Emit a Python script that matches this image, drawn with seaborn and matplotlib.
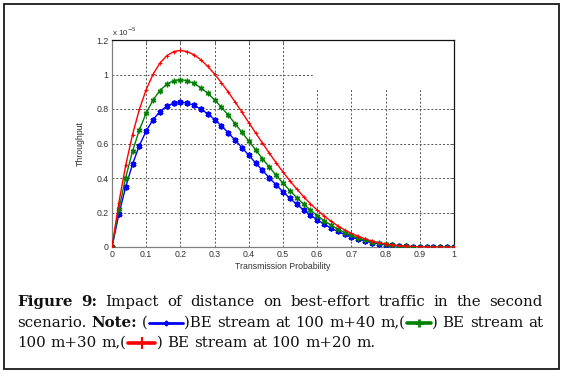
import numpy as np
import pandas as pd
import seaborn as sns
import matplotlib
matplotlib.use("Agg")
import matplotlib.pyplot as plt
from matplotlib.patches import Rectangle
from matplotlib.lines import Line2D

# ---------------- data (throughput in units of 1e-5) ----------------
prob = [0.00, 0.02, 0.04, 0.06, 0.08, 0.10, 0.12, 0.14, 0.16, 0.18,
        0.20, 0.22, 0.24, 0.26, 0.28, 0.30, 0.32, 0.34, 0.36, 0.38,
        0.40, 0.42, 0.44, 0.46, 0.48, 0.50, 0.52, 0.54, 0.56, 0.58,
        0.60, 0.62, 0.64, 0.66, 0.68, 0.70, 0.72, 0.74, 0.76, 0.78,
        0.80, 0.82, 0.84, 0.86, 0.88, 0.90, 0.92, 0.94, 0.96, 0.98, 1.00]

be_40m = [0.000, 0.189, 0.348, 0.480, 0.588, 0.673, 0.738, 0.785, 0.817, 0.834,
          0.840, 0.835, 0.821, 0.799, 0.772, 0.739, 0.702, 0.662, 0.619, 0.576,
          0.532, 0.487, 0.444, 0.401, 0.360, 0.320, 0.283, 0.248, 0.215, 0.185,
          0.158, 0.133, 0.110, 0.090, 0.073, 0.058, 0.045, 0.035, 0.026, 0.019,
          0.013, 0.009, 0.006, 0.003, 0.002, 0.001, 0.000, 0.000, 0.000, 0.000, 0.000]

be_30m = [0.000, 0.218, 0.402, 0.555, 0.679, 0.777, 0.852, 0.907, 0.943, 0.964,
          0.970, 0.964, 0.948, 0.923, 0.891, 0.853, 0.810, 0.764, 0.715, 0.665,
          0.614, 0.563, 0.512, 0.463, 0.416, 0.370, 0.327, 0.286, 0.249, 0.214,
          0.182, 0.153, 0.127, 0.104, 0.084, 0.067, 0.052, 0.040, 0.030, 0.022,
          0.015, 0.010, 0.006, 0.004, 0.002, 0.001, 0.000, 0.000, 0.000, 0.000, 0.000]

be_20m = [0.000, 0.257, 0.473, 0.652, 0.798, 0.913, 1.001, 1.066, 1.109, 1.132,
          1.140, 1.133, 1.114, 1.085, 1.047, 1.002, 0.952, 0.898, 0.841, 0.781,
          0.721, 0.661, 0.602, 0.544, 0.488, 0.435, 0.384, 0.337, 0.292, 0.251,
          0.214, 0.180, 0.150, 0.123, 0.099, 0.079, 0.062, 0.047, 0.035, 0.025,
          0.018, 0.012, 0.008, 0.005, 0.003, 0.001, 0.001, 0.000, 0.000, 0.000, 0.000]

x_ticks = [0, 0.1, 0.2, 0.3, 0.4, 0.5, 0.6, 0.7, 0.8, 0.9, 1]
x_tick_labels = ["0", "0.1", "0.2", "0.3", "0.4", "0.5", "0.6", "0.7", "0.8", "0.9", "1"]
y_ticks = [0, 0.2, 0.4, 0.6, 0.8, 1.0, 1.2]
y_tick_labels = ["0", "0.2", "0.4", "0.6", "0.8", "1", "1.2"]

# ---------------- figure ----------------
sns.set_style("white")
plt.rcParams["font.family"] = ["Liberation Sans", "DejaVu Sans"]

W, H = 579, 380
fig = plt.figure(figsize=(W / 100, H / 100), dpi=100)
fig.patch.set_facecolor("white")

# outer frame
fig.add_artist(Rectangle((4 / W, 1 - 369 / H), 555 / W, 365 / H, transform=fig.transFigure,
                         facecolor="none", edgecolor="#1a1a1a", lw=1.3))

ax = fig.add_axes([112 / W, 1 - 247 / H, 342 / W, 207 / H])
ax.set_axisbelow(True)

df = pd.DataFrame({"p": prob, "b40": be_40m, "b30": be_30m, "b20": be_20m})
series = [("b40", "#0000ff", (6, 2, 0), 4.2, 1.3),
          ("b30", "#008000", (6, 2, 0), 4.0, 1.0),
          ("b20", "#ff0000", "+", 3.5, 0.7)]
for col, color, marker, ms, mew in series:
    sns.lineplot(data=df, x="p", y=col, ax=ax, color=color, lw=1.0,
                 marker=marker, markersize=ms, markeredgewidth=mew,
                 markeredgecolor=color, markerfacecolor=color,
                 estimator=None, sort=False, zorder=3)

ax.set_xlim(0, 1)
ax.set_ylim(0, 1.2)
ax.set_xticks(x_ticks)
ax.set_xticklabels(x_tick_labels)
ax.set_yticks(y_ticks)
ax.set_yticklabels(y_tick_labels)

ax.grid(True, linestyle=(0, (2, 2)), color="#555555", lw=0.7)
# blank area (invisible legend box in the original)
ax.add_patch(Rectangle((0.588, 0.91), 0.412, 0.29, facecolor="white",
                       edgecolor="none", zorder=1.5))

for side in ["left", "bottom"]:
    ax.spines[side].set_color("#808080")
    ax.spines[side].set_linewidth(0.9)
for side in ["top", "right"]:
    ax.spines[side].set_color("#111111")
    ax.spines[side].set_linewidth(0.9)

ax.tick_params(direction="in", length=3, width=0.6, top=True, right=True,
               labelsize=6.3, labelcolor="#333333", color="#555555", pad=2.5)
ax.set_xlabel("Transmission Probability", fontsize=6.3, color="#333333", labelpad=1.5)
ax.set_ylabel("Throughput", fontsize=6.3, color="#333333", labelpad=8)
ax.text(0.0, 1.012, "x 10$^{-5}$", transform=ax.transAxes, fontsize=5.8,
        color="#333333", ha="left", va="bottom")

# ---------------- caption (justified, serif) ----------------
cap_font = ["DejaVu Serif"]
cap_size = 10.8
L, R = 17, 543
renderer = fig.canvas.get_renderer()


def T(s, bold=False):
    return ("t", s, bold)


def S(color, marker, ms, mew, width, lw):
    return ("s", color, marker, ms, mew, width, lw)


lines = [
    [[T("Figure", True)], [T("9:", True)], [T("Impact")], [T("of")], [T("distance")], [T("on")],
     [T("best-effort")], [T("traffic")], [T("in")], [T("the")], [T("second")]],
    [[T("scenario.")], [T("Note:", True)],
     [T("("), S("#0000ff", "D", 2.5, 1.0, 36, 2.0), T(")BE")],
     [T("stream")], [T("at")], [T("100")], [T("m+40")],
     [T("m,("), S("#008000", "+", 6, 2.0, 26, 2.6), T(")")],
     [T("BE")], [T("stream")], [T("at")]],
    [[T("100")], [T("m+30")],
     [T("m,("), S("#ff0000", "+", 9, 1.5, 30, 2.6), T(")")],
     [T("BE")], [T("stream")], [T("at")], [T("100")], [T("m+20")], [T("m.")]],
]
baselines = [306, 327, 347]
justify = [True, True, False]

space_t = fig.text(0, 0, "a a", fontsize=cap_size, family=cap_font)
w_aa = space_t.get_window_extent(renderer).width
a_t = fig.text(0, 0, "aa", fontsize=cap_size, family=cap_font)
space_w = w_aa - a_t.get_window_extent(renderer).width
space_t.remove()
a_t.remove()

for words, base, just in zip(lines, baselines, justify):
    yf = 1 - base / H
    placed = []
    widths = []
    for word in words:
        items = []
        wsum = 0
        for piece in word:
            if piece[0] == "t":
                t = fig.text(0, yf, piece[1], fontsize=cap_size, family=cap_font,
                             fontweight="bold" if piece[2] else "normal",
                             color="#111111", ha="left", va="baseline")
                w = t.get_window_extent(renderer).width
                items.append(("t", t, w))
            else:
                w = piece[5]
                items.append(("s", piece, w))
            wsum += w
        placed.append(items)
        widths.append(wsum)
    if just:
        gap = (R - L - sum(widths)) / (len(words) - 1)
    else:
        gap = space_w
    x = L
    for items, wsum in zip(placed, widths):
        for kind, obj, w in items:
            if kind == "t":
                obj.set_x(x / W)
            else:
                _, color, marker, ms, mew, width, lw = obj
                yy = 1 - (base - 4.5) / H
                fig.add_artist(Line2D([(x + 1) / W, (x + width - 1) / W], [yy, yy],
                                      transform=fig.transFigure, color=color, lw=lw))
                fig.add_artist(Line2D([(x + width / 2) / W], [yy], transform=fig.transFigure,
                                      color=color, marker=marker, markersize=ms,
                                      markeredgewidth=mew, markeredgecolor=color,
                                      markerfacecolor=color, lw=0))
            x += w
        x += gap

fig.savefig("out.png", dpi=100)
